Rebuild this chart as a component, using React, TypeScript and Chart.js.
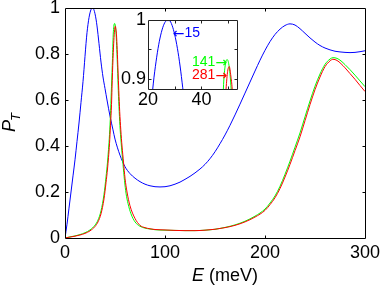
import { useEffect, useRef } from 'react';
import { Chart, registerables } from 'chart.js';
Chart.register(...registerables);

const FONT = '"Liberation Sans", Arial, Helvetica, sans-serif';
const ARROW_FONT = '"DejaVu Sans", sans-serif';

// ---- data (E in meV, P_T) ----
const blueE = [0,2,4,6,8,10,12,14,16,18,20,21,22,23,24,25,26,27,28,29,30,31,32,33,34,36,38,40,42,45,48,50,55,60,65,70,75,80,85,90,95,100,105,110,115,120,125,130,135,140,145,150,155,160,165,170,175,180,185,190,195,200,205,210,215,220,225,230,235,240,245,250,255,260,265,270,275,280,285,290,295,300];
const blueP = [0.0,0.06,0.13,0.2,0.27,0.34,0.42,0.5,0.59,0.68,0.79,0.845,0.893,0.929,0.958,0.979,0.993,0.999,0.999,0.991,0.975,0.952,0.922,0.885,0.845,0.765,0.7,0.65,0.6,0.53,0.47,0.43,0.36,0.31,0.28,0.26,0.245,0.234,0.227,0.223,0.222,0.223,0.227,0.234,0.243,0.255,0.268,0.283,0.3,0.32,0.345,0.375,0.41,0.448,0.49,0.535,0.582,0.63,0.678,0.726,0.773,0.816,0.854,0.885,0.908,0.924,0.931,0.926,0.91,0.89,0.87,0.852,0.837,0.826,0.818,0.812,0.809,0.807,0.806,0.807,0.81,0.814];

const greenE = [0,5,10,15,20,25,30,33,36,39,41,42.5,43.5,44.5,45.5,46,46.5,47,47.5,48.2,48.8,49.6,50.4,51.1,51.8,52.5,53.3,54.2,55.2,56.5,58,59.5,61,63,66,70,75,80,85,90,100,110,120,130,140,150,160,170,180,190,200,205,210,215,220,225,230,235,240,245,250,255,260,265,268,272,276,280,285,290,295,300];
const greenP = [0,0.005,0.009,0.015,0.023,0.035,0.056,0.078,0.118,0.19,0.265,0.33,0.385,0.45,0.54,0.6,0.66,0.72,0.78,0.883,0.92,0.933,0.92,0.883,0.82,0.74,0.64,0.55,0.47,0.395,0.32,0.25,0.195,0.15,0.105,0.07,0.051,0.043,0.039,0.036,0.034,0.033,0.032,0.032,0.034,0.038,0.046,0.057,0.073,0.095,0.126,0.152,0.183,0.225,0.277,0.334,0.395,0.457,0.527,0.596,0.66,0.713,0.755,0.778,0.784,0.781,0.77,0.754,0.732,0.708,0.683,0.658];

const redE = [0,5,10,15,20,25,30,33,36,39,41,42.5,43.5,44.5,45.5,46.5,47,47.5,48,48.5,49.2,49.8,50.4,51,51.5,52.2,53,53.8,54.7,55.8,57,58.5,60,62,65,70,75,80,85,90,100,110,120,130,140,150,160,170,180,190,200,205,210,215,220,225,230,235,240,245,250,255,260,265,268,272,276,280,285,290,295,300];
const redP = [0,0.004,0.008,0.013,0.02,0.031,0.05,0.07,0.105,0.17,0.24,0.3,0.35,0.41,0.49,0.58,0.65,0.72,0.78,0.83,0.883,0.913,0.921,0.905,0.883,0.82,0.73,0.64,0.55,0.47,0.4,0.33,0.26,0.2,0.14,0.085,0.055,0.045,0.04,0.037,0.035,0.033,0.032,0.032,0.034,0.038,0.045,0.055,0.07,0.091,0.12,0.145,0.175,0.215,0.265,0.32,0.38,0.44,0.51,0.58,0.645,0.7,0.745,0.77,0.777,0.772,0.758,0.74,0.715,0.69,0.663,0.637];

// ---- ticks ----
const mainXTicks = [0, 100, 200, 300];
const mainYTicks = [0, 0.2, 0.4, 0.6, 0.8, 1];
const insetXTicks = [20, 30, 40, 50];
const insetXLabels = ['20', '', '40', ''];
const insetYTicks = [0.9, 0.95, 1];
const insetYLabels = ['0.9', '', '1'];

// ---- inset annotations (data coords of the arrow tip) ----
const insetNotes = [
  { label: '15', arrow: '\u2190', e: 29.3, p: 0.978, color: '#0000ff', side: 'left' },
  { label: '141', arrow: '\u2192', e: 49.6, p: 0.929, color: '#00ff00', side: 'right' },
  { label: '281', arrow: '\u2192', e: 49.6, p: 0.906, color: '#ff0000', side: 'right' },
];

const pts = (xs: number[], ys: number[]) => xs.map((x, i) => ({ x, y: ys[i] }));

function datasets() {
  const common = { borderWidth: 1, pointRadius: 0, fill: false, cubicInterpolationMode: 'monotone' as const };
  return [
    { ...common, data: pts(redE, redP), borderColor: '#ff0000' },
    { ...common, data: pts(greenE, greenP), borderColor: '#00ff00' },
    { ...common, data: pts(blueE, blueP), borderColor: '#0000ff' },
  ];
}

function boxPlugin(id: string, tickLen: number, xTicks: number[], yTicks: number[], white: boolean, color: string) {
  return {
    id,
    beforeDatasetsDraw(chart: any) {
      if (!white) return;
      const a = chart.chartArea;
      const ctx = chart.ctx;
      ctx.save();
      ctx.fillStyle = '#ffffff';
      ctx.fillRect(a.left, a.top, a.right - a.left + 1, a.bottom - a.top + 1);
      ctx.restore();
    },
    afterDraw(chart: any) {
      const a = chart.chartArea;
      const ctx = chart.ctx;
      const x = chart.scales.x;
      const y = chart.scales.y;
      ctx.save();
      ctx.strokeStyle = color;
      ctx.lineWidth = 1;
      ctx.beginPath();
      ctx.rect(a.left + 0.5, a.top + 0.5, a.right - a.left, a.bottom - a.top);
      for (const v of xTicks) {
        const px = Math.round(x.getPixelForValue(v)) + 0.5;
        if (px <= a.left + 1 || px >= a.right) continue;
        ctx.moveTo(px, a.bottom + 0.5); ctx.lineTo(px, a.bottom + 0.5 - tickLen);
        ctx.moveTo(px, a.top + 0.5); ctx.lineTo(px, a.top + 0.5 + tickLen);
      }
      for (const v of yTicks) {
        const py = Math.round(y.getPixelForValue(v)) + 0.5;
        if (py <= a.top + 1 || py >= a.bottom) continue;
        ctx.moveTo(a.left + 0.5, py); ctx.lineTo(a.left + 0.5 + tickLen, py);
        ctx.moveTo(a.right + 0.5, py); ctx.lineTo(a.right + 0.5 - tickLen, py);
      }
      ctx.stroke();
      ctx.restore();
    },
  };
}

const titlePlugin = {
  id: 'titles',
  afterDraw(chart: any) {
    const ctx = chart.ctx;
    ctx.save();
    ctx.fillStyle = '#000';
    ctx.textBaseline = 'alphabetic';
    ctx.textAlign = 'left';
    // x title: E (meV)
    ctx.font = `italic 18px ${FONT}`;
    const ex = 192;
    ctx.fillText('E', ex, 281);
    const w = ctx.measureText('E').width;
    ctx.font = `18px ${FONT}`;
    ctx.fillText(' (meV)', ex + w, 281);
    // y title: P_T
    ctx.translate(15, 132);
    ctx.rotate(-Math.PI / 2);
    ctx.font = `italic 18px ${FONT}`;
    ctx.fillText('P', 0, 0);
    const wp = ctx.measureText('P').width;
    ctx.font = `italic 13px ${FONT}`;
    ctx.fillText('T', wp - 1, 5);
    ctx.restore();
  },
};

const notesPlugin = {
  id: 'notes',
  afterDraw(chart: any) {
    const ctx = chart.ctx;
    const x = chart.scales.x;
    const y = chart.scales.y;
    ctx.save();
    ctx.textBaseline = 'middle';
    ctx.textAlign = 'left';
    const numFont = `14px ${FONT}`;
    const arrFont = `14px ${ARROW_FONT}`;
    for (const n of insetNotes) {
      ctx.fillStyle = n.color;
      const px = x.getPixelForValue(n.e);
      const py = y.getPixelForValue(n.p);
      ctx.font = arrFont;
      const aw = ctx.measureText(n.arrow).width;
      ctx.font = numFont;
      const nw = ctx.measureText(n.label).width;
      if (n.side === 'left') {
        ctx.font = arrFont;
        ctx.fillText(n.arrow, px, py + 1);
        ctx.font = numFont;
        ctx.fillText(n.label, px + aw, py);
      } else {
        const start = px - aw - nw;
        ctx.font = numFont;
        ctx.fillText(n.label, start, py);
        ctx.font = arrFont;
        ctx.fillText(n.arrow, start + nw, py + 1);
      }
    }
    ctx.restore();
  },
};

function fixBox(w: number | null, h: number | null) {
  return (s: any) => {
    if (w !== null) s.width = w;
    if (h !== null) s.height = h;
    s.paddingLeft = 0; s.paddingRight = 0; s.paddingTop = 0; s.paddingBottom = 0;
  };
}

export default function App() {
  const mainRef = useRef<HTMLCanvasElement>(null);
  const insetRef = useRef<HTMLCanvasElement>(null);

  useEffect(() => {
    const tickFont = { family: FONT, size: 18 };
    const main = new Chart(mainRef.current as HTMLCanvasElement, {
      type: 'line',
      data: { datasets: datasets() as any },
      options: {
        responsive: false,
        animation: false,
        devicePixelRatio: 1,
        layout: { padding: { left: 0, right: 16, top: 8, bottom: 0 } },
        plugins: { legend: { display: false }, tooltip: { enabled: false } },
        scales: {
          x: {
            type: 'linear', min: 0, max: 300,
            afterBuildTicks: (s: any) => { s.ticks = mainXTicks.map((v) => ({ value: v })); },
            afterFit: fixBox(null, 48),
            ticks: { font: tickFont, color: '#000', padding: 4, autoSkip: false, maxRotation: 0, callback: (v: any) => String(v) },
            grid: { display: false, drawTicks: false },
            border: { display: false },
          },
          y: {
            type: 'linear', min: 0, max: 1,
            afterBuildTicks: (s: any) => { s.ticks = mainYTicks.map((v) => ({ value: v })); },
            afterFit: fixBox(65, null),
            ticks: { font: tickFont, color: '#000', padding: 5, autoSkip: false, callback: (v: any) => String(v) },
            grid: { display: false, drawTicks: false },
            border: { display: false },
          },
        },
      } as any,
      plugins: [boxPlugin('mainBox', 3, mainXTicks, mainYTicks, false, '#000'), titlePlugin],
    });

    const inset = new Chart(insetRef.current as HTMLCanvasElement, {
      type: 'line',
      data: { datasets: datasets() as any },
      options: {
        responsive: false,
        animation: false,
        devicePixelRatio: 1,
        layout: { padding: { left: 0, right: 13, top: 15, bottom: 0 } },
        plugins: { legend: { display: false }, tooltip: { enabled: false } },
        scales: {
          x: {
            type: 'linear', min: 20, max: 53.3,
            afterBuildTicks: (s: any) => { s.ticks = insetXTicks.map((v) => ({ value: v })); },
            afterFit: fixBox(null, 31),
            ticks: { font: tickFont, color: '#000', padding: 0, autoSkip: false, maxRotation: 0, callback: (_v: any, i: number) => insetXLabels[i] },
            grid: { display: false, drawTicks: false },
            border: { display: false },
          },
          y: {
            type: 'linear', min: 0.883, max: 1.0,
            afterBuildTicks: (s: any) => { s.ticks = insetYTicks.map((v) => ({ value: v })); },
            afterFit: fixBox(43, null),
            ticks: { font: tickFont, color: '#000', padding: 2, autoSkip: false, callback: (_v: any, i: number) => insetYLabels[i] },
            grid: { display: false, drawTicks: false },
            border: { display: false },
          },
        },
      } as any,
      plugins: [boxPlugin('insetBox', 3, insetXTicks, insetYTicks, true, '#222'), notesPlugin],
    });

    return () => { main.destroy(); inset.destroy(); };
  }, []);

  return (
    <div style={{ position: 'fixed', left: 0, top: 0, width: 381, height: 286, background: '#fff', overflow: 'hidden' }}>
      <canvas ref={mainRef} width={381} height={286} style={{ position: 'absolute', left: 0, top: 0 }} />
      <canvas ref={insetRef} width={145} height={115} style={{ position: 'absolute', left: 105, top: 5 }} />
    </div>
  );
}
